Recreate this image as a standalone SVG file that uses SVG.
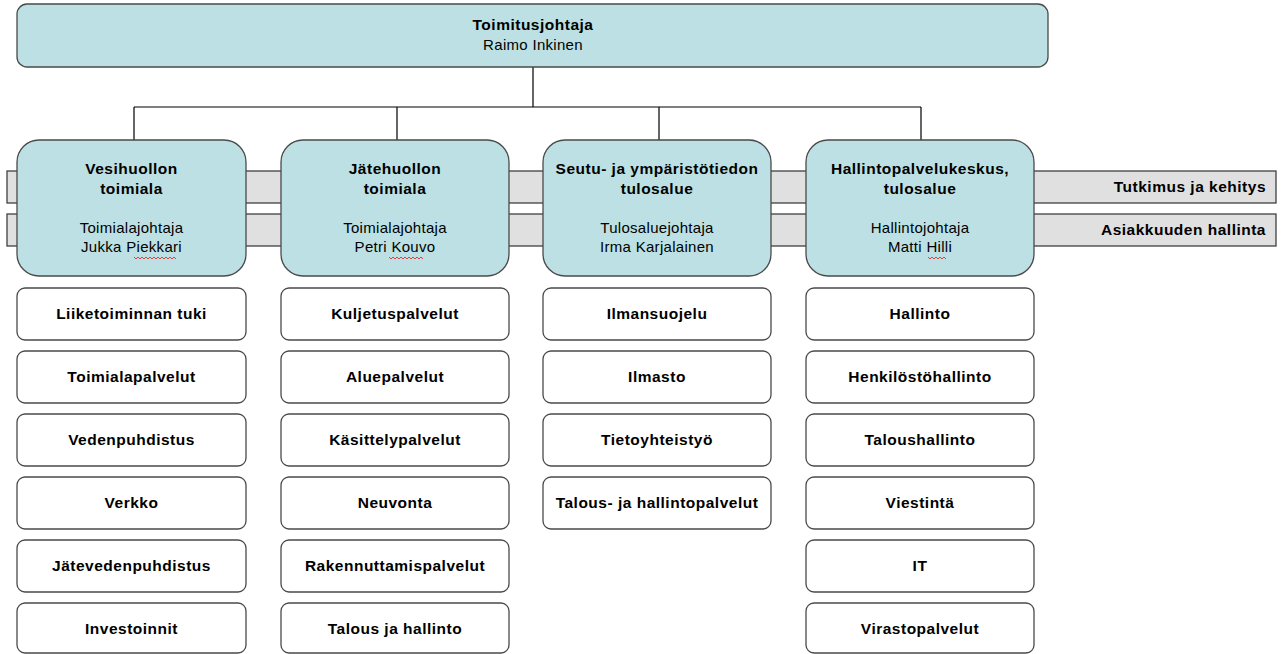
<svg xmlns="http://www.w3.org/2000/svg" width="1282" height="654" viewBox="0 0 1282 654">
<style>
.top{fill:#bce0e3;stroke:#4a4a4a;stroke-width:1.3}
.l2{fill:#bce0e3;stroke:#4a4a4a;stroke-width:1.3}
.l3{fill:#ffffff;stroke:#4a4a4a;stroke-width:1.3}
.bar{fill:#e0e0e0;stroke:#404040;stroke-width:1.3}
.conn{fill:none;stroke:#000;stroke-width:1.2}
.b{font-family:"Liberation Sans",Arial,sans-serif;font-weight:bold;font-size:15.5px;letter-spacing:0.5px;fill:#000;text-anchor:middle}
.r{font-family:"Liberation Sans",Arial,sans-serif;font-size:15px;letter-spacing:0.3px;fill:#000;text-anchor:middle}
.bt{font-family:"Liberation Sans",Arial,sans-serif;font-weight:bold;font-size:15.5px;letter-spacing:0.5px;fill:#000;text-anchor:end}
.sq{fill:none;stroke:#e03030;stroke-width:0.9}
</style>
<g id="bars">
<g id="bar-tutkimus"><rect class="bar" x="7" y="171" width="1269" height="32"/><text class="bt" x="1266" y="192">Tutkimus ja kehitys</text></g>
<g id="bar-asiakkuus"><rect class="bar" x="7" y="214" width="1269" height="32"/><text class="bt" x="1266" y="235">Asiakkuuden hallinta</text></g>
</g>
<g id="connectors">
<path class="conn" d="M533 67V107M134 107H921M134 107V140M397 107V140M659 107V140M921 107V140"/>
</g>
<g id="ceo"><rect class="top" x="17" y="4" width="1031" height="63" rx="10"/><text class="b" x="533" y="30">Toimitusjohtaja</text><text class="r" x="533" y="50">Raimo Inkinen</text></g>
<g id="vesihuolto"><rect class="l2" x="17" y="140" width="229" height="136" rx="22"/><text class="b" x="131.5" y="174">Vesihuollon</text><text class="b" x="131.5" y="194">toimiala</text><text class="r" x="131.5" y="233">Toimialajohtaja</text><text class="r" x="131.5" y="252">Jukka Piekkari</text><path class="sq" d="M134 257l2 2 2-2 2 2 2-2 2 2 2-2 2 2 2-2 2 2 2-2 2 2 2-2 2 2 2-2 2 2 2-2 2 2 2-2 2 2 2-2 2 2"/></g>
<g id="jatehuolto"><rect class="l2" x="281" y="140" width="228" height="136" rx="22"/><text class="b" x="395" y="174">Jätehuollon</text><text class="b" x="395" y="194">toimiala</text><text class="r" x="395" y="233">Toimialajohtaja</text><text class="r" x="395" y="252">Petri Kouvo</text><path class="sq" d="M389 257l2 2 2-2 2 2 2-2 2 2 2-2 2 2 2-2 2 2 2-2 2 2 2-2 2 2 2-2 2 2 2-2 2 2"/></g>
<g id="seutu"><rect class="l2" x="543" y="140" width="228" height="136" rx="22"/><text class="b" x="657" y="174">Seutu- ja ympäristötiedon</text><text class="b" x="657" y="194">tulosalue</text><text class="r" x="657" y="233">Tulosaluejohtaja</text><text class="r" x="657" y="252">Irma Karjalainen</text></g>
<g id="hallintopalvelu"><rect class="l2" x="806" y="140" width="228" height="136" rx="22"/><text class="b" x="920" y="174">Hallintopalvelukeskus,</text><text class="b" x="920" y="194">tulosalue</text><text class="r" x="920" y="233">Hallintojohtaja</text><text class="r" x="920" y="252">Matti Hilli</text><path class="sq" d="M928 257l2 2 2-2 2 2 2-2 2 2 2-2 2 2 2-2 2 2"/></g>
<g id="c1">
<g id="c1-1"><rect class="l3" x="17" y="288" width="229" height="52" rx="8"/><text class="b" x="131.5" y="319">Liiketoiminnan tuki</text></g>
<g id="c1-2"><rect class="l3" x="17" y="351" width="229" height="52" rx="8"/><text class="b" x="131.5" y="382">Toimialapalvelut</text></g>
<g id="c1-3"><rect class="l3" x="17" y="414" width="229" height="52" rx="8"/><text class="b" x="131.5" y="445">Vedenpuhdistus</text></g>
<g id="c1-4"><rect class="l3" x="17" y="477" width="229" height="52" rx="8"/><text class="b" x="131.5" y="508">Verkko</text></g>
<g id="c1-5"><rect class="l3" x="17" y="540" width="229" height="52" rx="8"/><text class="b" x="131.5" y="571">Jätevedenpuhdistus</text></g>
<g id="c1-6"><rect class="l3" x="17" y="603" width="229" height="50" rx="8"/><text class="b" x="131.5" y="634">Investoinnit</text></g>
</g>
<g id="c2">
<g id="c2-1"><rect class="l3" x="281" y="288" width="228" height="52" rx="8"/><text class="b" x="395" y="319">Kuljetuspalvelut</text></g>
<g id="c2-2"><rect class="l3" x="281" y="351" width="228" height="52" rx="8"/><text class="b" x="395" y="382">Aluepalvelut</text></g>
<g id="c2-3"><rect class="l3" x="281" y="414" width="228" height="52" rx="8"/><text class="b" x="395" y="445">Käsittelypalvelut</text></g>
<g id="c2-4"><rect class="l3" x="281" y="477" width="228" height="52" rx="8"/><text class="b" x="395" y="508">Neuvonta</text></g>
<g id="c2-5"><rect class="l3" x="281" y="540" width="228" height="52" rx="8"/><text class="b" x="395" y="571">Rakennuttamispalvelut</text></g>
<g id="c2-6"><rect class="l3" x="281" y="603" width="228" height="50" rx="8"/><text class="b" x="395" y="634">Talous ja hallinto</text></g>
</g>
<g id="c3">
<g id="c3-1"><rect class="l3" x="543" y="288" width="228" height="52" rx="8"/><text class="b" x="657" y="319">Ilmansuojelu</text></g>
<g id="c3-2"><rect class="l3" x="543" y="351" width="228" height="52" rx="8"/><text class="b" x="657" y="382">Ilmasto</text></g>
<g id="c3-3"><rect class="l3" x="543" y="414" width="228" height="52" rx="8"/><text class="b" x="657" y="445">Tietoyhteistyö</text></g>
<g id="c3-4"><rect class="l3" x="543" y="477" width="228" height="52" rx="8"/><text class="b" x="657" y="508">Talous- ja hallintopalvelut</text></g>
</g>
<g id="c4">
<g id="c4-1"><rect class="l3" x="806" y="288" width="228" height="52" rx="8"/><text class="b" x="920" y="319">Hallinto</text></g>
<g id="c4-2"><rect class="l3" x="806" y="351" width="228" height="52" rx="8"/><text class="b" x="920" y="382">Henkilöstöhallinto</text></g>
<g id="c4-3"><rect class="l3" x="806" y="414" width="228" height="52" rx="8"/><text class="b" x="920" y="445">Taloushallinto</text></g>
<g id="c4-4"><rect class="l3" x="806" y="477" width="228" height="52" rx="8"/><text class="b" x="920" y="508">Viestintä</text></g>
<g id="c4-5"><rect class="l3" x="806" y="540" width="228" height="52" rx="8"/><text class="b" x="920" y="571">IT</text></g>
<g id="c4-6"><rect class="l3" x="806" y="603" width="228" height="50" rx="8"/><text class="b" x="920" y="634">Virastopalvelut</text></g>
</g>
</svg>
